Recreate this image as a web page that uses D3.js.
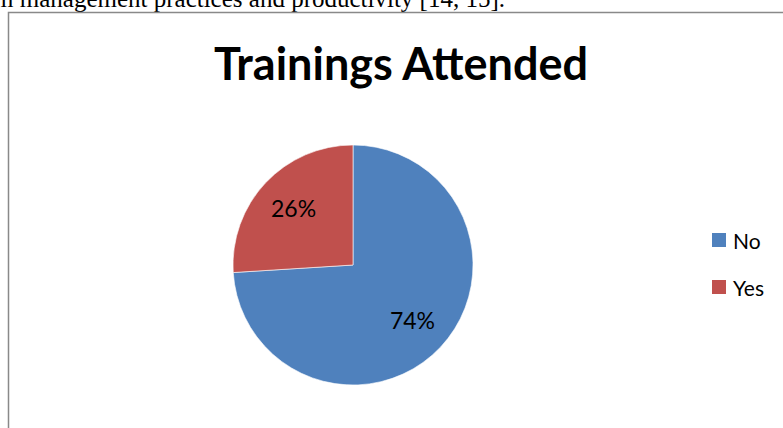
<!DOCTYPE html>
<meta charset="utf-8">
<style>
    body {
        margin: 0;
        background: white;
        overflow: hidden;
    }

    svg {
        display: block;
    }

    .caption {
        font-family: "Liberation Serif", "DejaVu Serif", serif;
        font-size: 25px;
        fill: black;
    }

    .title {
        font-family: Lato, "Open Sans", sans-serif;
        font-weight: bold;
        font-size: 45px;
    }

    .label {
        font-family: Lato, "Open Sans", sans-serif;
        font-size: 23px;
    }

    .legend text {
        font-family: Lato, "Open Sans", sans-serif;
        font-size: 21px;
    }
</style>

<body>
    <script src="https://d3js.org/d3.v7.min.js"></script>
    <script>

        // chart data
        var categories = ["No", "Yes"];
        var values = [74, 26];
        var colors = ["#4F81BD", "#C0504D"];
        var chartTitle = "Trainings Attended";

        var width = 783,
            height = 428,
            radius = 120;

        var svg = d3.select("body")
            .append("svg")
            .attr("width", width)
            .attr("height", height);

        // piece of the page text above the chart
        svg.append("text")
            .attr("class", "caption")
            .attr("x", 505)
            .attr("y", 7)
            .attr("text-anchor", "end")
            .text("farm management practices and productivity [14, 15].");

        // chart frame
        svg.append("rect")
            .attr("x", 8.5)
            .attr("y", 12.5)
            .attr("width", 900)
            .attr("height", 500)
            .attr("fill", "none")
            .attr("stroke", "#898989")
            .attr("stroke-width", 1.5);

        svg.append("text")
            .attr("class", "title")
            .attr("x", 401)
            .attr("y", 80)
            .attr("text-anchor", "middle")
            .text(chartTitle);

        var data = categories.map(function (c, i) {
            return { label: c, value: values[i] };
        });

        var color = d3.scaleOrdinal()
            .domain(categories)
            .range(colors);

        var pie = d3.pie()
            .sort(null)
            .value(function (d) { return d.value; });

        var arc = d3.arc()
            .innerRadius(0)
            .outerRadius(radius);

        var labelArc = d3.arc()
            .innerRadius(radius * 0.68)
            .outerRadius(radius * 0.68);

        var total = d3.sum(values);

        var g = svg.append("g")
            .attr("transform", "translate(353,265)");

        g.selectAll("path.slice")
            .data(pie(data))
            .enter()
            .append("path")
            .attr("class", "slice")
            .attr("d", arc)
            .attr("fill", function (d) { return color(d.data.label); })
            .attr("stroke", "white")
            .attr("stroke-width", 0.6);

        g.selectAll("text.label")
            .data(pie(data))
            .enter()
            .append("text")
            .attr("class", "label")
            .attr("transform", function (d) { return "translate(" + labelArc.centroid(d) + ")"; })
            .attr("text-anchor", "middle")
            .attr("dy", "0.36em")
            .text(function (d) { return Math.round(d.data.value / total * 100) + "%"; });

        /* ------- LEGEND -------*/
        var legend = svg.append("g")
            .attr("class", "legend")
            .attr("transform", "translate(712,233)");

        var item = legend.selectAll("g")
            .data(categories)
            .enter()
            .append("g")
            .attr("transform", function (d, i) { return "translate(0," + i * 47 + ")"; });

        item.append("rect")
            .attr("width", 14)
            .attr("height", 14)
            .attr("fill", function (d) { return color(d); });

        item.append("text")
            .attr("x", 21)
            .attr("y", 16)
            .text(function (d) { return d; });

    </script>
</body>
